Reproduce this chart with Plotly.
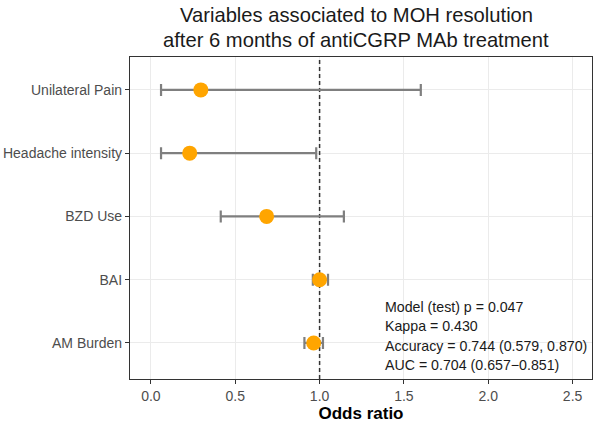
import plotly.graph_objects as go

variables = ["Unilateral Pain", "Headache intensity", "BZD Use", "BAI", "AM Burden"]
odds_ratio = [0.296, 0.23, 0.686, 1.0, 0.965]
ci_low = [0.06, 0.06, 0.414, 0.96, 0.91]
ci_high = [1.60, 0.98, 1.144, 1.05, 1.02]
x_ticks = [0.0, 0.5, 1.0, 1.5, 2.0, 2.5]
x_tick_labels = ["0.0", "0.5", "1.0", "1.5", "2.0", "2.5"]
stats_lines = ["Model (test) p = 0.047", "Kappa = 0.430",
               "Accuracy = 0.744 (0.579, 0.870)", "AUC = 0.704 (0.657\u22120.851)"]
title_lines = ["Variables associated to MOH resolution",
               "after 6 months of antiCGRP MAb treatment"]

FONT = "Liberation Sans, Arial, sans-serif"

ypos = list(range(len(variables), 0, -1))
plus = [h - o for h, o in zip(ci_high, odds_ratio)]
minus = [o - l for o, l in zip(odds_ratio, ci_low)]

fig = go.Figure()
# reference line at OR = 1 drawn as a trace so it sits above the grid, below the points
fig.add_trace(go.Scatter(
    x=[1, 1], y=[0.43, 5.52], mode="lines",
    line=dict(color="#333333", width=1.5, dash="4px,3px"),
    showlegend=False, hoverinfo="skip",
))
fig.add_trace(go.Scatter(
    x=odds_ratio, y=ypos, mode="markers",
    marker=dict(color="#FFA500", size=15, line=dict(width=0)),
    error_x=dict(type="data", symmetric=False, array=plus, arrayminus=minus,
                 color="#7f7f7f", thickness=2.2, width=6),
    showlegend=False, hoverinfo="skip",
))

n = len(stats_lines)
for i, line in enumerate(stats_lines):
    fig.add_annotation(
        x=0.0, xref="x domain", y=0.0, yref="y domain",
        text=line, showarrow=False, align="left",
        xanchor="left", yanchor="middle", xshift=253, yshift=14 + 19.5 * (n - 1 - i),
        font=dict(family=FONT, size=14.2, color="#1a1a1a"),
    )

for i, line in enumerate(title_lines):
    fig.add_annotation(
        x=0.5, xref="paper", y=1.0, yref="y domain",
        text=line, showarrow=False, xanchor="center", yanchor="middle",
        xshift=-5, yshift=(57 - 15) - 25 * i,
        font=dict(family=FONT, size=20.2, color="#1a1a1a"),
    )

fig.update_layout(
    width=596, height=423,
    margin=dict(l=130, r=3, t=57, b=41),
    paper_bgcolor="white", plot_bgcolor="white",
    font=dict(family=FONT),
    xaxis=dict(range=[-0.124, 2.615], tickvals=x_ticks, ticktext=x_tick_labels,
               showgrid=True, gridcolor="#ebebeb", gridwidth=1.3, zeroline=False,
               ticks="outside", ticklen=4, tickcolor="#333333",
               tickfont=dict(size=14, color="#4d4d4d"),
               showline=True, linecolor="#333333", linewidth=1.3, mirror=True,
               title=dict(text="<b>Odds ratio</b>", font=dict(size=17, color="#000000"), standoff=4)),
    yaxis=dict(range=[0.43, 5.52], tickvals=ypos, ticktext=variables,
               showgrid=True, gridcolor="#ebebeb", gridwidth=1.3, zeroline=False,
               ticks="outside", ticklen=4, tickcolor="#333333",
               tickfont=dict(size=14, color="#4d4d4d"),
               showline=True, linecolor="#333333", linewidth=1.3, mirror=True),
)

fig.write_html("out.html", config={"displayModeBar": False},
               post_script="document.body.style.margin='0';")
